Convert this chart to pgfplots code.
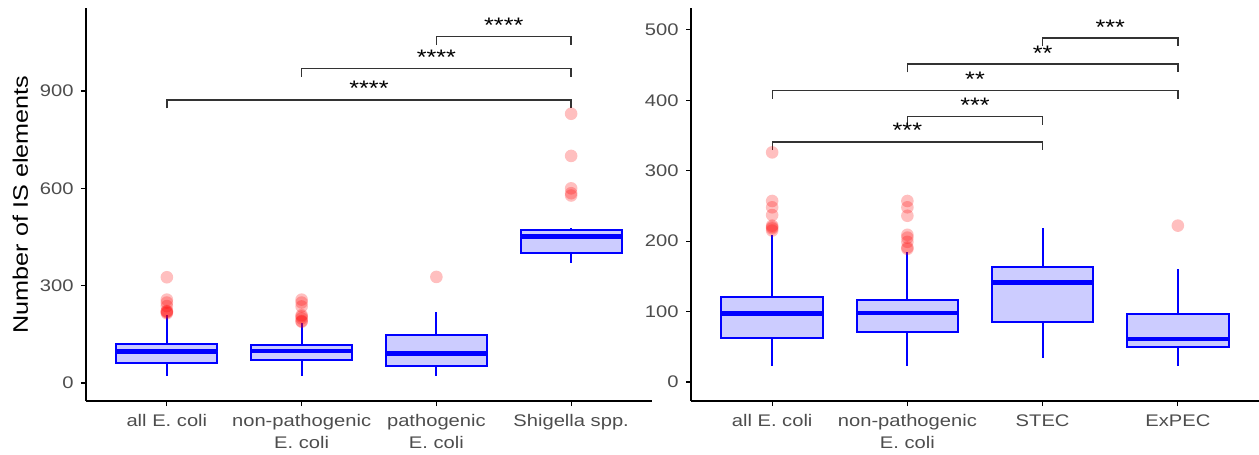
\documentclass[border=0pt]{standalone}
\usepackage{fontspec}
\setmainfont[FakeStretch=1.2]{Liberation Sans}
\usepackage{pgfplots}
\pgfplotsset{compat=1.18}
\usepgfplotslibrary{statistics}
\definecolor{grey30}{RGB}{77,77,77}
\definecolor{boxfill}{RGB}{204,204,255}
\newcommand{\tickfont}{\fontsize{16.8bp}{21.5bp}\selectfont}
\newcommand{\labfont}{\fontsize{21bp}{25bp}\selectfont}
\newcommand{\sigfont}{\fontsize{21bp}{24bp}\selectfont}
\tikzset{br/.style={line width=1.3bp, black!80},
  sig/.style={anchor=base, font=\sigfont, yshift=4bp}}
\pgfplotsset{
  gbox/.style={boxplot/draw direction=y,
    boxplot prepared={#1, box extend=0.75, whisker extend=0,
      every median/.style={line width=4.5bp}},
    draw=blue, fill=boxfill, line width=2bp, solid, mark=none},
  outl/.style={only marks, red, mark=*, mark size=6.3bp,
    mark options={solid, fill=red, draw=red, fill opacity=0.25, draw opacity=0}},
  gg/.style={scale only axis, height=393bp, axis lines*=left,
    axis line style={line width=1.3bp, black},
    tick align=outside, major tick length=5bp,
    every tick/.style={line width=1.1bp, black},
    xmin=0.4, xmax=4.6, xtick={1,2,3,4},
    xticklabel style={align=center, font=\tickfont, text=grey30, yshift=-5bp},
    yticklabel style={font=\tickfont, text=grey30, xshift=-4bp},
    /pgf/number format/assume math mode=true,
    boxplot/draw direction=y,
    clip=false, anchor=south west},
}
\begin{document}
\begin{tikzpicture}
\begin{axis}[gg, at={(86bp,54bp)}, width=566bp,
  ymin=-55.5, ymax=1156, ytick={0,300,600,900},
  xticklabels={{all E. coli},{non-pathogenic\\E. coli},{pathogenic\\E. coli},{Shigella spp.}},
  ylabel={Number of IS elements}, ylabel shift=5bp,
  ylabel style={font=\labfont, text=black}]
\addplot[gbox={draw position=1, lower whisker=22, lower quartile=63, median=97, upper quartile=121, upper whisker=209}] coordinates {};
\addplot[gbox={draw position=2, lower whisker=22, lower quartile=71, median=98, upper quartile=117, upper whisker=184}] coordinates {};
\addplot[gbox={draw position=3, lower whisker=23, lower quartile=52, median=91, upper quartile=148, upper whisker=220}] coordinates {};
\addplot[gbox={draw position=4, lower whisker=371, lower quartile=402, median=451, upper quartile=472, upper whisker=478}] coordinates {};
\addplot[outl] coordinates {(1,326) (1,257) (1,248) (1,237) (1,222) (1,218) (1,215) (1,220)
  (2,257) (2,248) (2,236) (2,209) (2,205) (2,199) (2,191) (2,189)
  (3,327) (4,830) (4,700) (4,600) (4,585) (4,578)};
\draw[br] (axis cs:1,846.8) |- (axis cs:4,872.4) -- (axis cs:4,846.8);
\draw[br] (axis cs:2,944.4) |- (axis cs:4,970) -- (axis cs:4,944.4);
\draw[br] (axis cs:3,1041.9) |- (axis cs:4,1067.5) -- (axis cs:4,1041.9);
\node[sig] at (axis cs:2.5,872.4) {****};
\node[sig] at (axis cs:3,970) {****};
\node[sig] at (axis cs:3.5,1067.5) {****};
\end{axis}
\begin{axis}[gg, at={(691bp,54bp)}, width=568bp,
  ymin=-27, ymax=531, ytick={0,100,200,300,400,500},
  xticklabels={{all E. coli},{non-pathogenic\\E. coli},{STEC},{ExPEC}}]
\addplot[gbox={draw position=1, lower whisker=22, lower quartile=63, median=97, upper quartile=121, upper whisker=209}] coordinates {};
\addplot[gbox={draw position=2, lower whisker=22, lower quartile=71, median=98, upper quartile=117, upper whisker=184}] coordinates {};
\addplot[gbox={draw position=3, lower whisker=34, lower quartile=85, median=141, upper quartile=163, upper whisker=218}] coordinates {};
\addplot[gbox={draw position=4, lower whisker=22, lower quartile=49, median=61, upper quartile=96, upper whisker=160}] coordinates {};
\addplot[outl] coordinates {(1,326) (1,257) (1,248) (1,237) (1,222) (1,218) (1,215) (1,220)
  (2,257) (2,248) (2,236) (2,209) (2,205) (2,199) (2,191) (2,189) (4,222)};
\draw[br] (axis cs:1,329.1) |- (axis cs:3,340.9) -- (axis cs:3,329.1);
\draw[br] (axis cs:2,365) |- (axis cs:3,376.8) -- (axis cs:3,365);
\draw[br] (axis cs:1,402) |- (axis cs:4,413.8) -- (axis cs:4,402);
\draw[br] (axis cs:2,439.5) |- (axis cs:4,451.3) -- (axis cs:4,439.5);
\draw[br] (axis cs:3,476.4) |- (axis cs:4,488.2) -- (axis cs:4,476.4);
\node[sig] at (axis cs:2,340.9) {***};
\node[sig] at (axis cs:2.5,376.8) {***};
\node[sig] at (axis cs:2.5,413.8) {**};
\node[sig] at (axis cs:3,451.3) {**};
\node[sig] at (axis cs:3.5,488.2) {***};
\end{axis}
\pgfresetboundingbox
\path[use as bounding box] (0,0) rectangle (1259bp,455bp);
\end{tikzpicture}
\end{document}
